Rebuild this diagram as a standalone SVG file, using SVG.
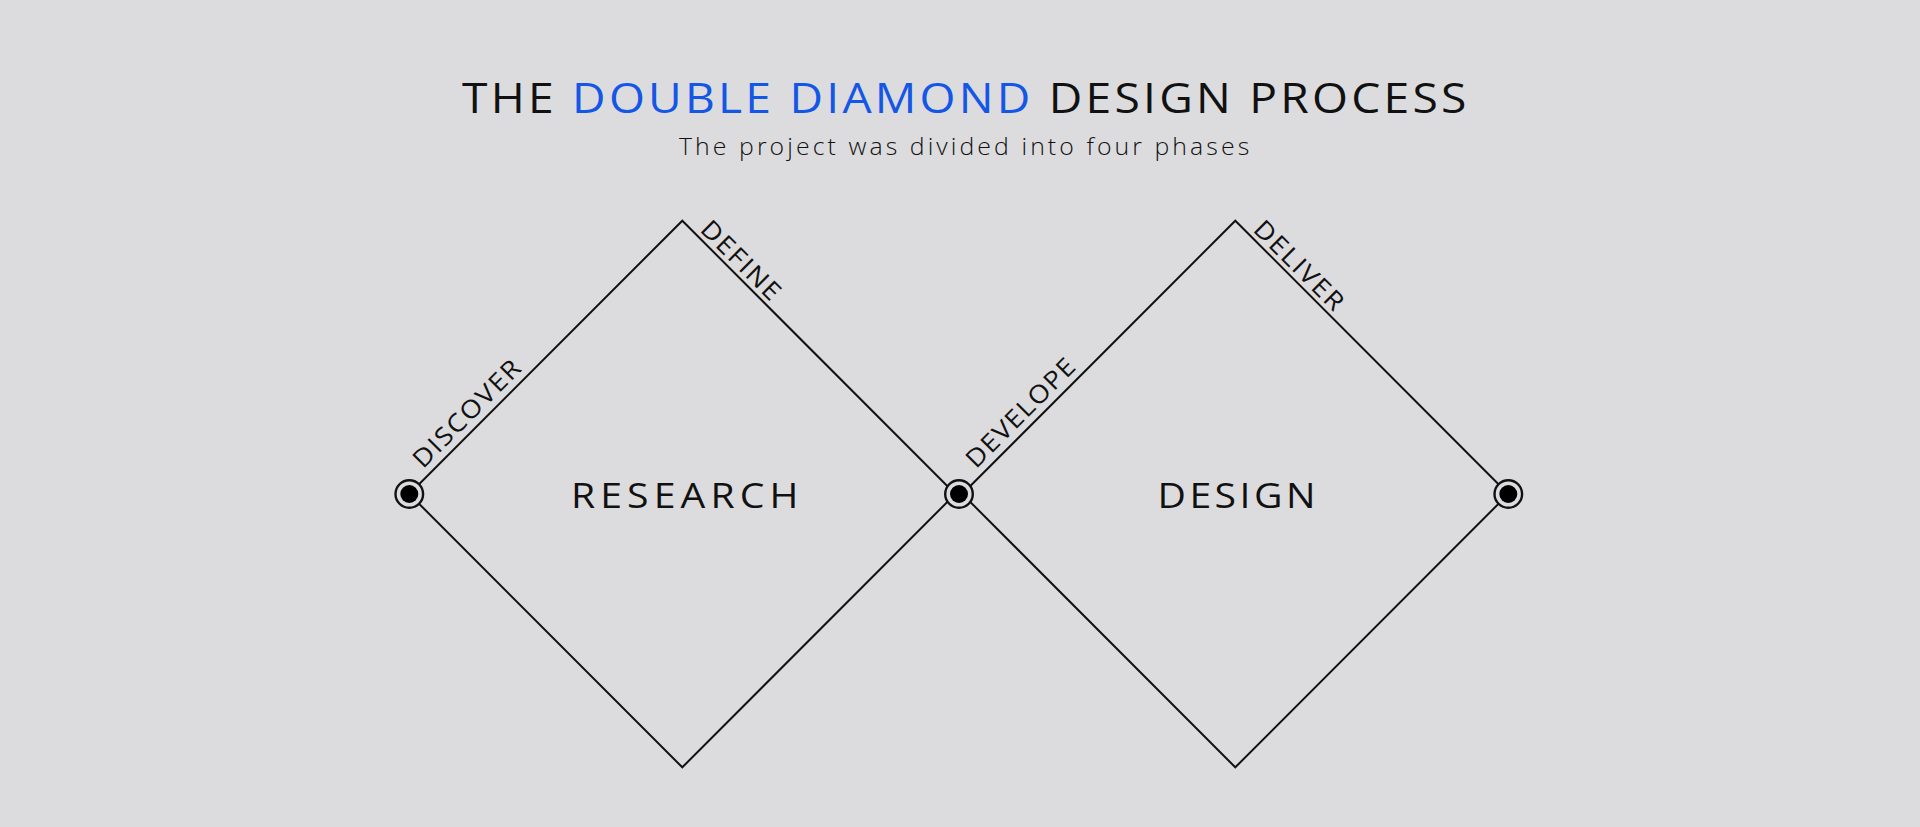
<svg xmlns="http://www.w3.org/2000/svg" width="1920" height="827" viewBox="0 0 1920 827">
  <style>
    text { font-family: "Open Sans", "Liberation Sans", sans-serif; fill: #111111; }
    .title { font-size: 42px; font-weight: 400; }
    .blue { fill: #1456e6; }
    .sub { font-size: 23px; font-weight: 300; }
    .big { font-size: 35px; font-weight: 400; }
    .lab { font-size: 25px; font-weight: 400; }
    .edge { fill: none; stroke: #111111; stroke-width: 2; stroke-linejoin: miter; }
    .ring { fill: #dcdcde; stroke: #111111; stroke-width: 2.4; }
    .dot { fill: #000000; }
  </style>
  <rect x="0" y="0" width="1920" height="827" fill="#dcdcde"/>

  <g id="title">
    <text class="title" transform="translate(462,113.3) scale(1.1,1)" x="0" y="0" textLength="913" lengthAdjust="spacing">THE <tspan class="blue">DOUBLE DIAMOND</tspan> DESIGN PROCESS</text>
    <text class="sub" transform="translate(679,154.5) scale(1.08,1)" x="0" y="0" textLength="528" lengthAdjust="spacing">The project was divided into four phases</text>
  </g>

  <g id="connectors">
    <polygon class="edge" points="409.3,494 682.3,220.7 955.3,494 682.3,767.3"/>
    <polygon class="edge" points="962.3,494 1235.3,220.7 1508.3,494 1235.3,767.3"/>
  </g>

  <g id="edge-labels">
    <text class="lab" transform="translate(423,469.5) rotate(-45) scale(1.1,1)" textLength="128" lengthAdjust="spacing">DISCOVER</text>
    <text class="lab" transform="translate(699,230.5) rotate(45) scale(1.1,1)" textLength="92" lengthAdjust="spacing">DEFINE</text>
    <text class="lab" transform="translate(976,469.5) rotate(-45) scale(1.1,1)" textLength="130" lengthAdjust="spacing">DEVELOPE</text>
    <text class="lab" transform="translate(1252,230.5) rotate(45) scale(1.1,1)" textLength="105" lengthAdjust="spacing">DELIVER</text>
  </g>

  <g id="node-research">
    <text class="big" transform="translate(571,507.7) scale(1.12,1)" x="0" y="0" textLength="203" lengthAdjust="spacing">RESEARCH</text>
  </g>
  <g id="node-design">
    <text class="big" transform="translate(1157.5,507.7) scale(1.12,1)" x="0" y="0" textLength="141" lengthAdjust="spacing">DESIGN</text>
  </g>

  <g id="node-start">
    <circle class="ring" cx="409.3" cy="494" r="13.8"/>
    <circle class="dot" cx="409.3" cy="494" r="9"/>
  </g>
  <g id="node-middle">
    <circle class="ring" cx="959" cy="494" r="13.8"/>
    <circle class="dot" cx="959" cy="494" r="9"/>
  </g>
  <g id="node-end">
    <circle class="ring" cx="1508.3" cy="494" r="13.8"/>
    <circle class="dot" cx="1508.3" cy="494" r="9"/>
  </g>
</svg>
